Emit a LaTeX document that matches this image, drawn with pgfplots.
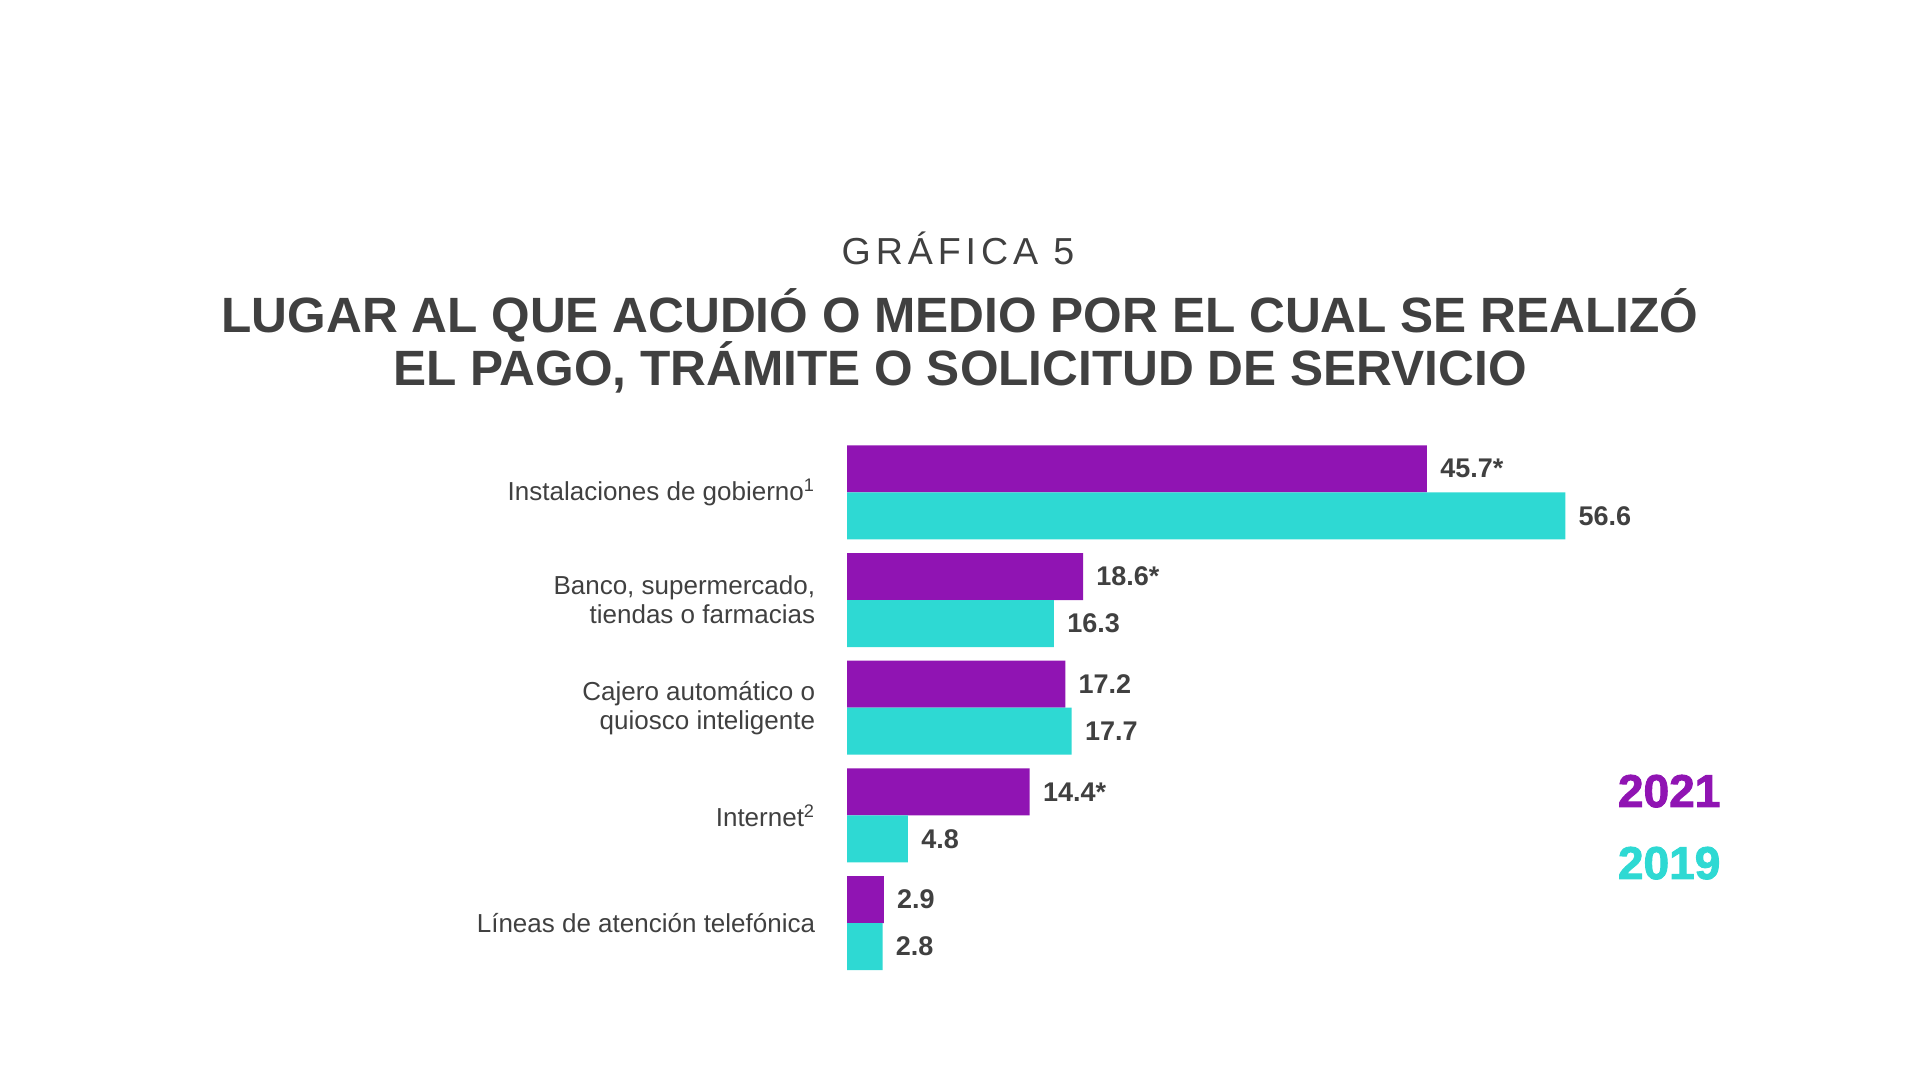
\documentclass[border=0pt]{standalone}
\usepackage{pgfplots}
\pgfplotsset{compat=1.18}
\usepackage{fontspec}
\setmainfont{Liberation Sans}
\newfontfamily\spacedfont[LetterSpace=13]{Liberation Sans}
\newfontfamily\heavyfont[FakeBold=2]{Liberation Sans Bold}
\definecolor{cpurple}{HTML}{9014B3}
\definecolor{ccyan}{HTML}{2ED9D3}
\definecolor{tgray}{HTML}{404040}
\begin{document}
\begin{tikzpicture}
\path[use as bounding box] (0,0) rectangle (960pt,540pt);
% titles
\node[anchor=base, text=tgray, font=\spacedfont\fontsize{18.8pt}{22pt}\selectfont] at (479pt,407.75pt) {GRÁFICA 5};
\node[anchor=base, text=tgray, font=\bfseries\fontsize{24.8pt}{28pt}\selectfont] at (480pt,373.5pt) {LUGAR AL QUE ACUDIÓ O MEDIO POR EL CUAL SE REALIZÓ};
\node[anchor=base, text=tgray, font=\bfseries\fontsize{24.8pt}{28pt}\selectfont] at (480pt,347pt) {EL PAGO, TRÁMITE O SOLICITUD DE SERVICIO};
% legend
\node[anchor=base west, inner sep=0pt, text=cpurple, font=\heavyfont\fontsize{23pt}{26pt}\selectfont] at (808.8pt,136.5pt) {2021};
\node[anchor=base west, inner sep=0pt, text=ccyan, font=\heavyfont\fontsize{23pt}{26pt}\selectfont] at (808.8pt,100.5pt) {2019};
\begin{axis}[
  at={(423.5pt,51.5pt)}, anchor=south west,
  scale only axis, width=507.6pt, height=269.25pt,
  xmin=0, xmax=80, ymin=-0.5, ymax=4.5,
  xbar, bar width=23.5pt,
  axis line style={draw=none},
  xtick=\empty,
  ytick={0,1,2,3,4},
  yticklabels={Líneas de atención telefónica, Internet\textsuperscript{2}, {Cajero automático o\\quiosco inteligente}, {Banco, supermercado,\\tiendas o farmacias}, Instalaciones de gobierno\textsuperscript{1}},
  major tick length=0pt,
  yticklabel style={anchor=east, align=right, inner sep=0pt, xshift=-15.75pt, text=tgray, font=\fontsize{13pt}{14.5pt}\selectfont},
  nodes near coords,
  point meta=explicit symbolic,
  nodes near coords style={anchor=west, inner sep=0pt, xshift=6.5pt, text=tgray, font=\bfseries\fontsize{13.5pt}{15pt}\selectfont},
  clip=false,
]
\addplot[fill=cpurple, draw=none, bar shift=11.75pt] table[meta=lab] {
x y lab
45.7 4 45.7*
18.6 3 18.6*
17.2 2 17.2
14.4 1 14.4*
2.9 0 2.9
};
\addplot[fill=ccyan, draw=none, bar shift=-11.75pt] table[meta=lab] {
x y lab
56.6 4 56.6
16.3 3 16.3
17.7 2 17.7
4.8 1 4.8
2.8 0 2.8
};
\end{axis}
\end{tikzpicture}
\end{document}
